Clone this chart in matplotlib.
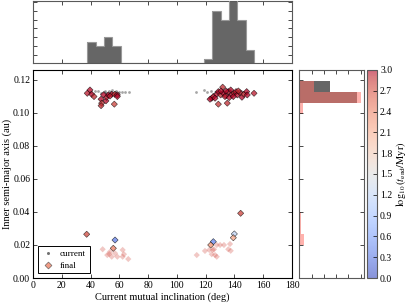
import numpy as np
import matplotlib
matplotlib.use("Agg")
import matplotlib.pyplot as plt
import matplotlib.cm as cm
import matplotlib.colors as mcolors
from matplotlib.lines import Line2D

plt.rcParams['font.family'] = ['Liberation Serif', 'DejaVu Serif']
plt.rcParams['mathtext.fontset'] = 'stix'
plt.rcParams['font.size'] = 7

# current systems (grey dots): inclination (deg), inner semi-major axis (au)
cur_inc = [40, 43, 45, 47, 49, 50, 51, 52, 53, 54, 55, 56, 57, 58, 59, 60, 62, 64, 66.5,
           113.3, 118.8, 120.7, 123.7, 125, 126.5, 128, 129.5, 131, 132.5, 134, 135.5,
           137, 138.5, 140, 141.5, 143, 144.5, 146, 148]
cur_a = [0.1125, 0.1130, 0.1133, 0.1120, 0.1128, 0.1135, 0.1122, 0.1118, 0.1130, 0.1125,
         0.1137, 0.1120, 0.1128, 0.1132, 0.1118, 0.1126, 0.1125, 0.1128, 0.1125,
         0.1125, 0.1139, 0.1125, 0.1133, 0.1115, 0.1128, 0.1135, 0.1120, 0.1130, 0.1125,
         0.1138, 0.1118, 0.1140, 0.1128, 0.1122, 0.1135, 0.1118, 0.1130, 0.1125, 0.1120]

# final systems with outline: inclination, semi-major axis, log10(t_end/Myr)
fin_inc = [39.6, 37.7, 40.8, 42.4, 47.3, 47.7, 47.3, 50.7, 51.2, 52.3, 54.7, 56.8, 58.6,
           56.5, 58.6, 49.0, 53.5,
           131.8, 124.2, 125.3, 127.7, 128.8, 130.4, 132.3, 134.1, 135.7, 137.4, 138.1,
           139.7, 141.1, 142.0, 143.8, 145.2, 146.6, 148.5, 148.9, 153.6, 128.8, 135.0,
           123.0, 126.5, 133.4, 136.4, 139.2, 142.7, 130.6, 134.1,
           37.3, 57.0, 55.8, 144.3, 139.9, 139.2, 125.3, 123.5]
fin_a = [0.1139, 0.1119, 0.1113, 0.1099, 0.1083, 0.1059, 0.1044, 0.1073, 0.1095, 0.1109,
         0.1113, 0.1113, 0.1109, 0.1053, 0.1099, 0.1110, 0.1102,
         0.1156, 0.1089, 0.1099, 0.1113, 0.1129, 0.1109, 0.1119, 0.1105, 0.1129, 0.1139,
         0.1109, 0.1119, 0.1129, 0.1109, 0.1123, 0.1095, 0.1113, 0.1129, 0.1109, 0.1119,
         0.1053, 0.1059, 0.1083, 0.1089, 0.1099, 0.1093, 0.1099, 0.1133, 0.1133, 0.1133,
         0.0265, 0.0230, 0.0180, 0.0392, 0.0267, 0.0244, 0.0220, 0.0200]
fin_t = [3.0, 2.95, 3.0, 2.9, 3.0, 2.85, 2.9, 3.0, 2.95, 3.0, 3.0, 2.9, 3.0,
         2.8, 3.0, 3.0, 2.95,
         2.9, 3.0, 2.95, 3.0, 3.0, 2.9, 3.0, 3.0, 2.95, 3.0, 3.0,
         2.9, 3.0, 3.0, 2.95, 3.0, 2.9, 3.0, 3.0, 2.95, 2.85, 2.9,
         3.0, 3.0, 2.95, 3.0, 3.0, 2.9, 3.0, 3.0,
         2.75, 0.35, 2.45, 2.8, 1.2, 2.15, 0.4, 2.3]

# faint final systems
faint_inc = [37.7, 48.4, 53.5, 51.6, 54.7, 58.6, 62.3, 62.3, 63.2, 66.2, 57.0, 53.0,
             113.8, 119.5, 122.5, 124.9, 127.7, 130.0, 132.7, 136.9, 135.7, 137.4,
             124.2, 126.5, 127.7, 125.8]
faint_a = [0.0174, 0.0174, 0.0159, 0.0139, 0.0129, 0.0129, 0.0129, 0.0170, 0.0144, 0.0115,
           0.0150, 0.0145,
           0.0139, 0.0164, 0.0170, 0.0170, 0.0200, 0.0200, 0.0200, 0.0206, 0.0174, 0.0165,
           0.0144, 0.0139, 0.0129, 0.0174]
faint_t = [2.75] * len(faint_inc)

# top histogram of current inclination
inc_bin_lo, inc_bin_hi = 37.7, 153.6
inc_counts = [5, 4, 6, 4, 0, 0, 0, 0, 0, 0, 0, 0, 0, 0, 1, 12, 10, 15, 10, 3]

# side histogram of semi-major axis
a_bin_lo, a_bin_hi = 0.0198, 0.1194
a_counts_cur = [0, 0, 0, 0, 0, 0, 0, 0, 0, 0, 0, 0, 0, 47, 25]
a_counts_fin = [4, 1, 1, 0, 0, 0, 0, 0, 0, 0, 0, 0, 3, 50, 12]

inc_edges = np.linspace(inc_bin_lo, inc_bin_hi, len(inc_counts) + 1)
a_edges = np.linspace(a_bin_lo, a_bin_hi, len(a_counts_cur) + 1)

cmap = plt.get_cmap('coolwarm')
norm = mcolors.Normalize(vmin=0, vmax=3)

fig = plt.figure(figsize=(4.07, 3.03), dpi=100)
ax = fig.add_axes([0.0811, 0.0825, 0.6364, 0.6865])
ax_top = fig.add_axes([0.0811, 0.791, 0.6364, 0.2073])
ax_right = fig.add_axes([0.7354, 0.0825, 0.1582, 0.6865])
cax = fig.add_axes([0.9025, 0.0825, 0.0246, 0.6865])

# main scatter
ax.scatter(cur_inc, cur_a, s=4, color='k', alpha=0.35, lw=0, zorder=2)
ax.scatter(faint_inc, faint_a, s=10, marker='D', c=faint_t, cmap=cmap, norm=norm,
           alpha=0.3, lw=0, zorder=3)
ax.scatter(fin_inc, fin_a, s=10, marker='D', c=fin_t, cmap=cmap, norm=norm,
           alpha=0.75, edgecolors='k', linewidths=0.4, zorder=4)
ax.set_xlim(0, 180)
ax.set_ylim(0, 0.126)
ax.set_xticks(np.arange(0, 181, 20))
ax.set_yticks(np.arange(0, 0.121, 0.02))
ax.yaxis.set_major_formatter(matplotlib.ticker.FormatStrFormatter('%.2f'))
ax.set_xlabel('Current mutual inclination (deg)', fontsize=7.5, labelpad=2)
ax.set_ylabel('Inner semi-major axis (au)', fontsize=7.5, labelpad=1)

# legend handles
h_cur = Line2D([], [], ls='', marker='o', ms=2.2, mfc='0.45', mec='none')
h_fin = Line2D([], [], ls='', marker='D', ms=3.5, mfc=cmap(norm(2.4)), mec='0.3',
               mew=0.5, alpha=0.8)
leg = ax.legend([h_cur, h_fin], ['current', 'final'], loc='lower left', fontsize=6.5,
                fancybox=False, edgecolor='k', framealpha=1, borderpad=0.4,
                handletextpad=0.6, borderaxespad=0.5, labelspacing=0.4, handlelength=1.5)
leg.get_frame().set_linewidth(0.7)

# top histogram
ax_top.stairs(inc_counts, inc_edges, fill=True, color='0.4', zorder=2)
ax_top.stairs(inc_counts, inc_edges, color='0.6', lw=0.8, zorder=3)
ax_top.set_xlim(0, 180)
ax_top.set_ylim(0, 14.4)
ax_top.set_xticks(np.arange(0, 181, 20))
ax_top.set_yticks(np.arange(0, 15, 2))

# right histogram
ax_right.stairs(a_counts_cur, a_edges, orientation='horizontal', fill=True, color='0.4')
ax_right.stairs(a_counts_fin, a_edges, orientation='horizontal', fill=True,
                color=(1.0, 0.45, 0.42), alpha=0.55)
ax_right.set_ylim(0, 0.126)
ax_right.set_xlim(0, 52.5)
ax_right.set_xticks(np.arange(0, 51, 10))
ax_right.set_yticks(np.arange(0, 0.121, 0.02))

for a in (ax, ax_top, ax_right):
    a.tick_params(direction='in', top=True, right=True, length=3, width=0.5,
                  labelsize=7, pad=2)
for a in (ax_top, ax_right):
    a.tick_params(labelbottom=False, labelleft=False)
    for sp in a.spines.values():
        sp.set_color('0.35')
        sp.set_linewidth(0.8)
for sp in ax.spines.values():
    sp.set_linewidth(0.8)

# colorbar
sm = cm.ScalarMappable(norm=norm, cmap=cmap)
cb = fig.colorbar(sm, cax=cax, alpha=0.6)
cb.set_ticks(np.arange(0, 3.01, 0.3))
cb.ax.yaxis.set_major_formatter(matplotlib.ticker.FormatStrFormatter('%.1f'))
cb.ax.tick_params(labelsize=7, direction='in', length=3, width=0.5, pad=2)
cb.outline.set_edgecolor('0.35')
cb.outline.set_linewidth(0.8)
cb.set_label(r'$\log_{10}(t_{\rm end}/{\rm Myr})$', fontsize=7.5, labelpad=1)

fig.savefig('out.png', dpi=100)
